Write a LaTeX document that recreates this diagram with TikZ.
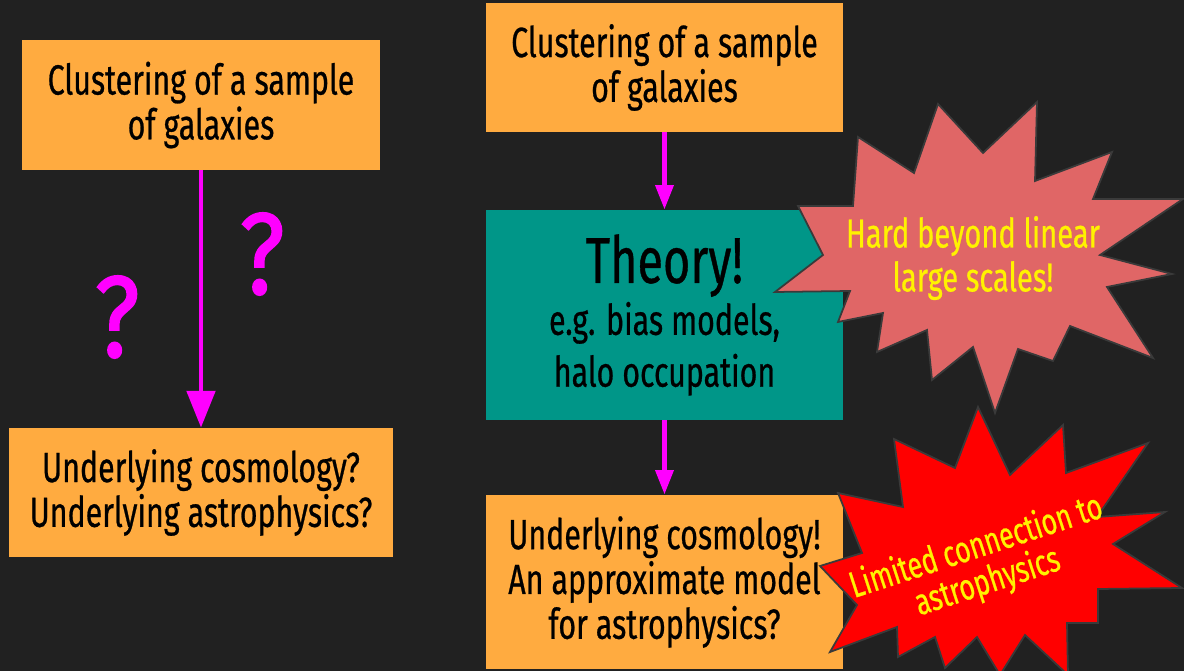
\documentclass[tikz,border=0pt]{standalone}
\usepackage{fontspec}
\setmainfont[FakeStretch=0.72, FakeBold=0.6]{Fira Sans}
\newfontfamily\qfont[FakeStretch=0.85, FakeBold=1.2]{Fira Sans}
\usetikzlibrary{arrows.meta}

\definecolor{bgdark}{HTML}{212121}
\definecolor{boxorange}{HTML}{FFAB40}
\definecolor{boxteal}{HTML}{009688}
\definecolor{burstpink}{HTML}{E06666}
\definecolor{burstedge}{HTML}{3A3A3A}
\definecolor{flowmagenta}{HTML}{FF00FF}

\begin{document}
\begin{tikzpicture}[x=0.02cm, y=-0.02cm,
    box/.style={fill=boxorange, text=black, align=center, inner sep=0pt,
        font=\fontsize{24}{25.5}\selectfont},
    theorybox/.style={box, fill=boxteal, font=\fontsize{24}{29.5}\selectfont},
    flow/.style={draw=flowmagenta, line width=2.8pt},
    qmark/.style={text=flowmagenta, inner sep=0pt, font=\qfont\fontsize{66}{66}\selectfont},
    burst/.style={draw=burstedge, line width=1pt, line join=miter},
    bursttext/.style={text=yellow, align=center, inner sep=0pt}]
    % Hintergrund
    \fill[bgdark] (0,0) rectangle (1184,671);
    \useasboundingbox (0,0) rectangle (1184,671);

    % linke Seite
    \node[box, minimum width=7.16cm, minimum height=2.6cm] (lsample) at (201,105)
        {Clustering of a sample\\of galaxies};
    \node[box, minimum width=7.68cm, minimum height=2.58cm] (lunder) at (201,492.5)
        {Underlying cosmology?\\Underlying astrophysics?};
    \draw[flow, -{Triangle[length=21pt,width=16pt]}] (lsample.south) -- (lunder.north);
    \node[qmark] (qa) at (262,254) {?};
    \node[qmark] (qb) at (117,317) {?};

    % rechte Seite
    \node[box, minimum width=7.14cm, minimum height=2.58cm] (rsample) at (664.5,67.5)
        {Clustering of a sample\\of galaxies};
    \node[theorybox, minimum width=7.14cm, minimum height=4.2cm] (theory) at (664.5,315)
        {{\fontsize{37}{40}\selectfont Theory!}\\e.g. bias models,\\halo occupation};
    \node[box, minimum width=7.14cm, minimum height=3.48cm] (runder) at (664.5,582)
        {Underlying cosmology!\\An approximate model\\for astrophysics?};
    \draw[flow, -{Triangle[length=14pt,width=10pt]}] (rsample.south) -- (theory.north);
    \draw[flow, -{Triangle[length=14pt,width=10pt]}] (theory.south) -- (runder.north);

    % Sterne
    \draw[burst, fill=red] (978,407) -- (1010,475) -- (1063,425) -- (1066,473)
        -- (1148,443) -- (1097,517) -- (1165,512) -- (1113,544) -- (1182,588)
        -- (1098,589) -- (1098,623) -- (1067,623) -- (1068,675) -- (1025,635)
        -- (1000,675) -- (977,637) -- (945,668) -- (935,637) -- (898,657)
        -- (897,627) -- (830,652) -- (857,605) -- (820,566) -- (862,553)
        -- (838,493) -- (903,507) -- (894,439) -- (955,468) -- cycle;
    \draw[burst, fill=burstpink] (938,104) -- (983,153) -- (1037,102) -- (1035,181)
        -- (1112,152) -- (1093,199) -- (1183,199) -- (1100,255) -- (1172,274)
        -- (1107,287) -- (1153,358) -- (1070,326) -- (1053,361) -- (1018,349)
        -- (995,413) -- (973,347) -- (932,380) -- (927,330) -- (877,352)
        -- (883,313) -- (838,322) -- (850,291) -- (775,292) -- (823,255)
        -- (798,206) -- (853,206) -- (858,137) -- (914,173) -- cycle;
    \node[bursttext, font=\fontsize{23}{25}\selectfont] (hard) at (973,258)
        {Hard beyond linear\\large scales!};
    \node[bursttext, rotate=18, font=\fontsize{21}{21}\selectfont] (limited) at (982,565)
        {Limited connection to\\astrophysics};
\end{tikzpicture}
\end{document}
